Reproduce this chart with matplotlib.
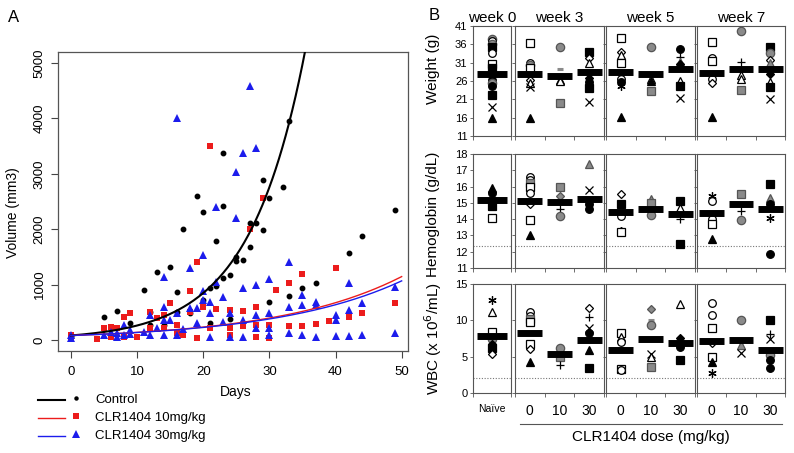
import matplotlib
matplotlib.use("Agg")
import matplotlib.pyplot as plt
from matplotlib.lines import Line2D
import numpy as np

plt.rcParams['font.family'] = ['Liberation Sans', 'DejaVu Sans']

# ---------------- panel A: tumour volume vs days ----------------
ctrl_day = [0, 0, 5, 7, 9, 11, 12, 12, 13, 14, 15, 16, 16, 17, 18, 19, 20, 20, 21, 21,
            22, 22, 23, 23, 23, 24, 24, 25, 25, 26, 27, 27, 28, 29, 29, 30, 30, 32,
            33, 33, 35, 37, 42, 44, 49]
ctrl_vol = [80, 60, 420, 530, 310, 900, 510, 270, 1235, 270, 1325, 860, 510, 2000, 480,
            2600, 2310, 720, 940, 310, 1795, 980, 3370, 2410, 1125, 1180, 380, 1500, 1430,
            1445, 2120, 1680, 2120, 2890, 1990, 2570, 690, 2770, 3960, 800, 940, 1025,
            1565, 1870, 2350]

low_day = [0, 0, 4, 5, 6, 6, 7, 8, 8, 9, 10, 12, 12, 13, 14, 14, 15, 16, 16, 17, 18, 18,
           19, 19, 20, 21, 21, 22, 24, 24, 24, 26, 26, 27, 28, 28, 28, 29, 30, 30, 31,
           33, 33, 35, 35, 37, 39, 40, 42, 44, 49]
low_vol = [90, 30, 20, 210, 240, 50, 210, 420, 60, 480, 50, 500, 210, 390, 450, 210, 675,
           270, 120, 90, 880, 510, 1415, 40, 600, 3495, 210, 555, 540, 210, 90, 525, 250,
           2000, 590, 270, 50, 2560, 270, 30, 905, 1035, 250, 1190, 260, 280, 340, 1295,
           410, 480, 660]

high_day = [0, 0, 5, 6, 7, 7, 8, 8, 9, 9, 11, 12, 12, 13, 14, 14, 14, 14, 15, 16, 16, 16,
            17, 18, 18, 19, 19, 20, 20, 20, 21, 21, 21, 22, 22, 23, 23, 24, 24, 25, 25,
            26, 26, 26, 26, 27, 28, 28, 28, 28, 30, 30, 30, 30, 33, 33, 33, 35, 35, 35,
            37, 37, 37, 40, 40, 40, 42, 42, 42, 44, 44, 49, 49]
high_vol = [90, 30, 90, 150, 120, 60, 270, 90, 180, 110, 150, 450, 90, 210, 1130, 600, 360,
            90, 360, 4005, 480, 90, 190, 1295, 570, 570, 310, 1535, 890, 720, 690, 480, 60,
            2400, 1050, 780, 330, 480, 60, 3040, 2200, 3370, 930, 360, 60, 4590, 3475, 990,
            450, 210, 1095, 480, 210, 90, 1415, 600, 120, 810, 630, 90, 690, 630, 60, 450,
            360, 70, 1020, 540, 70, 660, 90, 960, 120]

# exponential fits: (volume at day 0, growth rate per day)
ctrl_fit = (80, 0.118)
low_fit = (80, 0.0532)
high_fit = (80, 0.0518)

RED = '#ec1c1c'
BLUE = '#1c1cec'

# ---------------- panel B: weight / hemoglobin / WBC ----------------
weeks = ["week 0", "week 3", "week 5", "week 7"]
dose_labels = ["Naïve", "0", "10", "30", "0", "10", "30", "0", "10", "30"]
group_week = [0, 1, 1, 1, 2, 2, 2, 3, 3, 3]

weight_means = [27.8, 27.8, 27.3, 28.5, 28.4, 27.8, 29.3, 28.2, 29.2, 29.4]
weight_vals = [
    [37.4, 36.8, 36.2, 35.4, 33.6, 30.6, 29.6, 26.4, 25.4, 24.6, 22.2, 19.0, 16.0],
    [36.3, 31.0, 30.3, 29.5, 26.2, 25.4, 24.4, 16.0],
    [35.3, 29.4, 26.2, 25.9, 20.1],
    [34.0, 32.2, 30.8, 26.8, 25.8, 24.0, 20.2],
    [37.7, 33.8, 33.2, 30.8, 26.5, 25.6, 24.5, 16.2],
    [35.4, 26.6, 26.0, 23.4],
    [34.6, 32.6, 31.2, 30.6, 26.0, 24.5, 21.4],
    [36.6, 32.3, 31.4, 26.6, 25.4, 16.1],
    [39.6, 31.2, 27.6, 26.6, 23.5],
    [35.2, 33.6, 31.8, 31.0, 28.0, 25.8, 24.4, 21.2],
]
weight_marks = [
    "gc oc gc bs oc os bs bc gc bc bs x bt",
    "os oc gc os od ot x bt",
    "gc gdash bt ot gs",
    "bs od ot bd bc bs x",
    "os od ot os oc bc * bt",
    "gc ot bt gs",
    "bc + gt bd ot bs x",
    "os oc os oc od bt",
    "gc + ot ot gs",
    "bs gc od gt bd ot bs x",
]

hb_means = [15.2, 15.1, 15.05, 15.25, 14.45, 14.6, 14.3, 14.35, 14.9, 14.6]
hb_vals = [
    [15.9, 15.6, 14.8, 14.1],
    [16.6, 16.4, 16.2, 16.0, 15.6, 14.9, 13.95, 13.05],
    [16.0, 15.4, 14.65, 14.2],
    [17.4, 15.8, 14.9, 14.6],
    [15.55, 14.9, 14.2, 13.3, 13.2],
    [15.25, 15.0, 14.25],
    [15.1, 14.7, 14.0, 12.5],
    [15.4, 15.1, 14.0, 13.7, 12.8],
    [15.55, 14.5, 13.95],
    [16.15, 15.3, 14.9, 14.05, 11.85],
]
hb_marks = [
    "bt bc bs os",
    "oc oc gs os oc od os bt",
    "gs gd + gc",
    "gt x bc bc",
    "od bs oc od os",
    "gt gs gc",
    "bs ot + bs",
    "* oc oc os bt",
    "gs + gc",
    "bs gt bc * bc",
]
hb_limit = 12.35

wbc_means = [7.9, 8.3, 5.3, 7.35, 5.85, 7.45, 6.9, 7.2, 7.25, 5.85]
wbc_vals = [
    [12.8, 11.1, 8.4, 7.4, 6.8, 6.2, 5.3],
    [11.1, 10.6, 10.2, 9.8, 6.7, 6.0, 4.3],
    [6.2, 4.9, 3.8],
    [11.7, 10.4, 8.9, 8.3, 5.9, 3.4],
    [8.2, 7.7, 7.0, 3.3, 3.1],
    [11.5, 10.0, 9.3, 5.4, 4.9, 3.6],
    [12.2, 7.6, 6.3, 4.5],
    [12.4, 10.8, 8.9, 6.9, 5.0, 4.2, 2.8],
    [10.1, 6.6, 5.5],
    [10.0, 8.1, 7.5, 5.2, 4.6, 3.4],
]
wbc_marks = [
    "* ot os gc bd bs od",
    "oc oc gs os os od bt",
    "gc gs +",
    "od + x bc bt bs",
    "os ot oc os oc",
    "gd gdash gc x ot gs",
    "ot bd bc bs",
    "oc oc os od os bt *",
    "gc gt x",
    "bs + x gc bc bc",
]
wbc_limit = 2.0

GREY = '#8a8a8a'
DGREY = '#555555'
styles = {
    'oc': ('o', 'white', 'black', 5.5), 'gc': ('o', GREY, DGREY, 6),
    'bc': ('o', 'black', 'black', 5.5),
    'os': ('s', 'white', 'black', 5.5), 'gs': ('s', GREY, DGREY, 5.5),
    'bs': ('s', 'black', 'black', 5.5),
    'ot': ('^', 'white', 'black', 6), 'gt': ('^', GREY, DGREY, 6),
    'bt': ('^', 'black', 'black', 6),
    'od': ('D', 'white', 'black', 4.5), 'gd': ('D', GREY, DGREY, 4.5),
    'bd': ('D', 'black', 'black', 4.5),
    'x': ('x', 'none', 'black', 5.5), '+': ('+', 'none', 'black', 6),
    '*': ((6, 2, 0), 'none', 'black', 6), 'gdash': ('_', 'none', GREY, 5),
}


def fx(px):
    return px / 794.0


def fy(py):
    return 1 - py / 453.0


fig = plt.figure(figsize=(7.94, 4.53), dpi=100)

# ---- panel A ----
axa = fig.add_axes([fx(58), fy(351), fx(408) - fx(58), fy(52) - fy(351)])
t = np.linspace(0, 50, 400)
axa.plot(t, ctrl_fit[0] * np.exp(ctrl_fit[1] * t), color='black', lw=1.5, zorder=4)
axa.plot(t, low_fit[0] * np.exp(low_fit[1] * t), color=RED, lw=1.0, zorder=4)
axa.plot(t, high_fit[0] * np.exp(high_fit[1] * t), color=BLUE, lw=1.0, zorder=4)
axa.plot(ctrl_day, ctrl_vol, 'o', color='black', ms=3.2, zorder=3)
axa.plot(low_day, low_vol, 's', color=RED, ms=4.6, mew=0, zorder=3)
axa.plot(high_day, high_vol, '^', color=BLUE, ms=5.6, mew=0, zorder=3)
axa.set_xlim(-1.96, 50.96)
axa.set_ylim(-200, 5200)
axa.set_xticks([0, 10, 20, 30, 40, 50])
axa.set_yticks([0, 1000, 2000, 3000, 4000, 5000])
axa.tick_params(labelsize=9.5, length=5, width=0.8, color='#444444', pad=6)
axa.tick_params(axis='y', labelrotation=90, pad=4)
for lab in axa.get_yticklabels():
    lab.set_va('center')
for s in axa.spines.values():
    s.set_color('#555555')
    s.set_linewidth(0.9)
fig.text(fx(13), fy(213), "Volume (mm3)", rotation=90, ha='center', va='center', fontsize=10)
fig.text(fx(236), fy(392), "Days", ha='center', va='center', fontsize=10)
fig.text(fx(14), fy(17), "A", ha='center', va='center', fontsize=12)

legend_rows = [("Control", 'black', 'o', 3.2, 1.5), ("CLR1404 10mg/kg", RED, 's', 4.6, 1.0),
               ("CLR1404 30mg/kg", BLUE, '^', 5.6, 1.0)]
for i, (lab, col, mk, ms, lw) in enumerate(legend_rows):
    yy = fy(400 + 18 * i)
    fig.add_artist(Line2D([fx(38), fx(65)], [yy, yy], color=col, lw=lw))
    fig.add_artist(Line2D([fx(76)], [yy + 0.004], marker=mk, color=col, ms=ms, mew=0, ls='none'))
    fig.text(fx(95), yy, lab, ha='left', va='center', fontsize=9.5)

# ---- panel B ----
col_px = [(473, 511), (515, 604), (606, 695), (697, 785)]
row_px = [(26, 136), (154, 268), (284, 393)]
row_ylim = [(11, 41), (11, 18), (0, 15)]
row_ticks = [np.arange(11, 42, 5), np.arange(11, 19, 1), np.arange(0, 16, 5)]
row_labels = ["Weight (g)", "Hemoglobin (g/dL)", "WBC (x 10$^6$/mL)"]
row_label_y = [69, 214, 339]
row_data = [(weight_vals, weight_marks, weight_means, None),
            (hb_vals, hb_marks, hb_means, hb_limit),
            (wbc_vals, wbc_marks, wbc_means, wbc_limit)]
n_groups = [group_week.count(w) for w in range(len(weeks))]

for r in range(3):
    vals_all, marks_all, means, limit = row_data[r]
    axes = []
    for c in range(len(weeks)):
        x0, x1 = col_px[c]
        top, bot = row_px[r]
        ax = fig.add_axes([fx(x0), fy(bot), fx(x1) - fx(x0), fy(top) - fy(bot)])
        n = n_groups[c]
        ax.set_xlim(0, n)
        ax.set_ylim(*row_ylim[r])
        ax.set_yticks(row_ticks[r])
        ax.tick_params(axis='y', direction='out', length=2.5, width=0.6, color='#555555',
                       labelsize=8, pad=1.5)
        if c > 0:
            ax.set_yticklabels([])
        ax.set_xticks(np.arange(n + 1), minor=True)
        ax.set_xticks(np.arange(n) + 0.5)
        ax.tick_params(axis='x', which='minor', direction='out', length=3, width=0.6,
                       color='#555555')
        ax.tick_params(axis='x', which='major', length=0, pad=8)
        if r == 2:
            labs = [dose_labels[g] for g in range(len(group_week)) if group_week[g] == c]
            ax.set_xticklabels(labs, fontsize=7.5 if c == 0 else 10)
        else:
            ax.set_xticklabels([])
        for s in ax.spines.values():
            s.set_color('#555555')
            s.set_linewidth(0.8)
        if limit is not None:
            ax.axhline(limit, color='#777777', lw=0.8, ls=(0, (1, 1.5)), zorder=1)
        if r == 0:
            ax.set_title(weeks[c], fontsize=11, pad=3)
        axes.append(ax)

    slot = [0] * len(weeks)
    for g in range(len(group_week)):
        w = group_week[g]
        ax = axes[w]
        xpos = slot[w] + 0.5
        slot[w] += 1
        half = 0.4 if w == 0 else 0.42
        for v, m in zip(vals_all[g], marks_all[g].split()):
            mk, fc, ec, ms = styles[m]
            mew = 2.2 if m == 'gdash' else 0.9
            ax.plot([xpos], [v], marker=mk, ms=ms, mfc=fc, mec=ec, mew=mew, ls='none',
                    zorder=3, clip_on=False)
        ax.plot([xpos - half, xpos + half], [means[g], means[g]], color='black', lw=5,
                solid_capstyle='butt', zorder=5)

    fig.text(fx(433), fy(row_label_y[r]), row_labels[r], rotation=90, ha='center',
             va='center', fontsize=11)

fig.add_artist(Line2D([fx(520), fx(782)], [fy(424), fy(424)], color='#555555', lw=0.8))
fig.text(fx(651), fy(437), "CLR1404 dose (mg/kg)", ha='center', va='center', fontsize=11)
fig.text(fx(434), fy(15), "B", ha='center', va='center', fontsize=12)

fig.savefig("out.png", dpi=100)
